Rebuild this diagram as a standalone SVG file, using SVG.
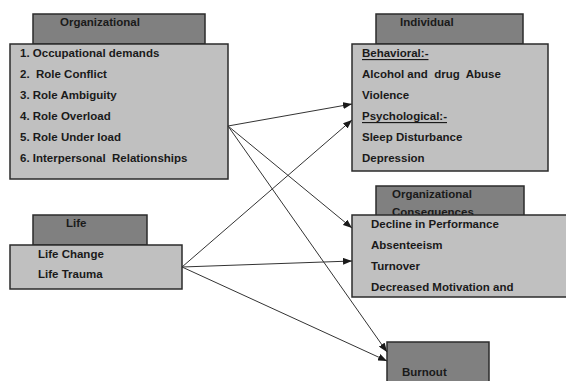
<svg xmlns="http://www.w3.org/2000/svg" width="566" height="381" viewBox="0 0 566 381">
<defs>
<style>
.hd{fill:#808080;stroke:#2b2b2b;stroke-width:1.5}
.bd{fill:#c0c0c0;stroke:#2b2b2b;stroke-width:1.5}
text{font-family:"Liberation Sans",Arial,sans-serif;font-weight:bold;font-size:11.5px;fill:#1a1a1a;dominant-baseline:central}
.u{text-decoration:underline}
.c{stroke:#333;stroke-width:1;fill:none;marker-end:url(#ah)}
</style>
<marker id="ah" markerWidth="9" markerHeight="7" refX="9" refY="3.5" orient="auto" markerUnits="userSpaceOnUse">
<path d="M0,0 L9,3.5 L0,7 Z" fill="#1a1a1a"/>
</marker>
</defs>
<rect width="566" height="381" fill="#fff"/>
<g id="organizational">
<rect class="hd" x="33" y="14" width="172" height="30"/>
<text x="60" y="22">Organizational</text>
<rect class="bd" x="10" y="44" width="218" height="135"/>
<text x="20" y="53">1. Occupational demands</text>
<text x="20" y="74" xml:space="preserve">2.  Role Conflict</text>
<text x="20" y="95">3. Role Ambiguity</text>
<text x="20" y="116">4. Role Overload</text>
<text x="20" y="137">5. Role Under load</text>
<text x="20" y="158" xml:space="preserve">6. Interpersonal  Relationships</text>
</g>
<g id="individual">
<rect class="hd" x="376" y="14" width="147" height="30"/>
<text x="400" y="22">Individual</text>
<rect class="bd" x="352" y="44" width="196" height="127"/>
<text class="u" x="362" y="53">Behavioral:-</text>
<text x="362" y="74" xml:space="preserve">Alcohol and  drug  Abuse</text>
<text x="362" y="95">Violence</text>
<text class="u" x="362" y="116">Psychological:-</text>
<text x="362" y="137">Sleep Disturbance</text>
<text x="362" y="158">Depression</text>
</g>
<g id="consequences">
<rect class="hd" x="376" y="186" width="148" height="40"/>
<text x="392" y="194">Organizational</text>
<text x="392" y="212">Consequences</text>
<rect class="bd" x="352" y="215" width="220" height="82"/>
<text x="371" y="224">Decline in Performance</text>
<text x="371" y="245">Absenteeism</text>
<text x="371" y="266">Turnover</text>
<text x="371" y="287">Decreased Motivation and</text>
</g>
<g id="life">
<rect class="hd" x="33" y="215" width="114" height="30"/>
<text x="66" y="223">Life</text>
<rect class="bd" x="10" y="245" width="172" height="44"/>
<text x="38" y="254">Life Change</text>
<text x="38" y="274">Life Trauma</text>
</g>
<g id="burnout">
<rect class="hd" x="387" y="342" width="102" height="45"/>
<text x="402" y="372">Burnout</text>
</g>
<g id="connectors">
<line class="c" x1="228" y1="126" x2="352" y2="104"/>
<line class="c" x1="228" y1="126" x2="352" y2="228"/>
<line class="c" x1="228" y1="126" x2="387" y2="352"/>
<line class="c" x1="182" y1="267" x2="352" y2="120"/>
<line class="c" x1="182" y1="267" x2="352" y2="261"/>
<line class="c" x1="182" y1="267" x2="387" y2="361"/>
</g>
</svg>
